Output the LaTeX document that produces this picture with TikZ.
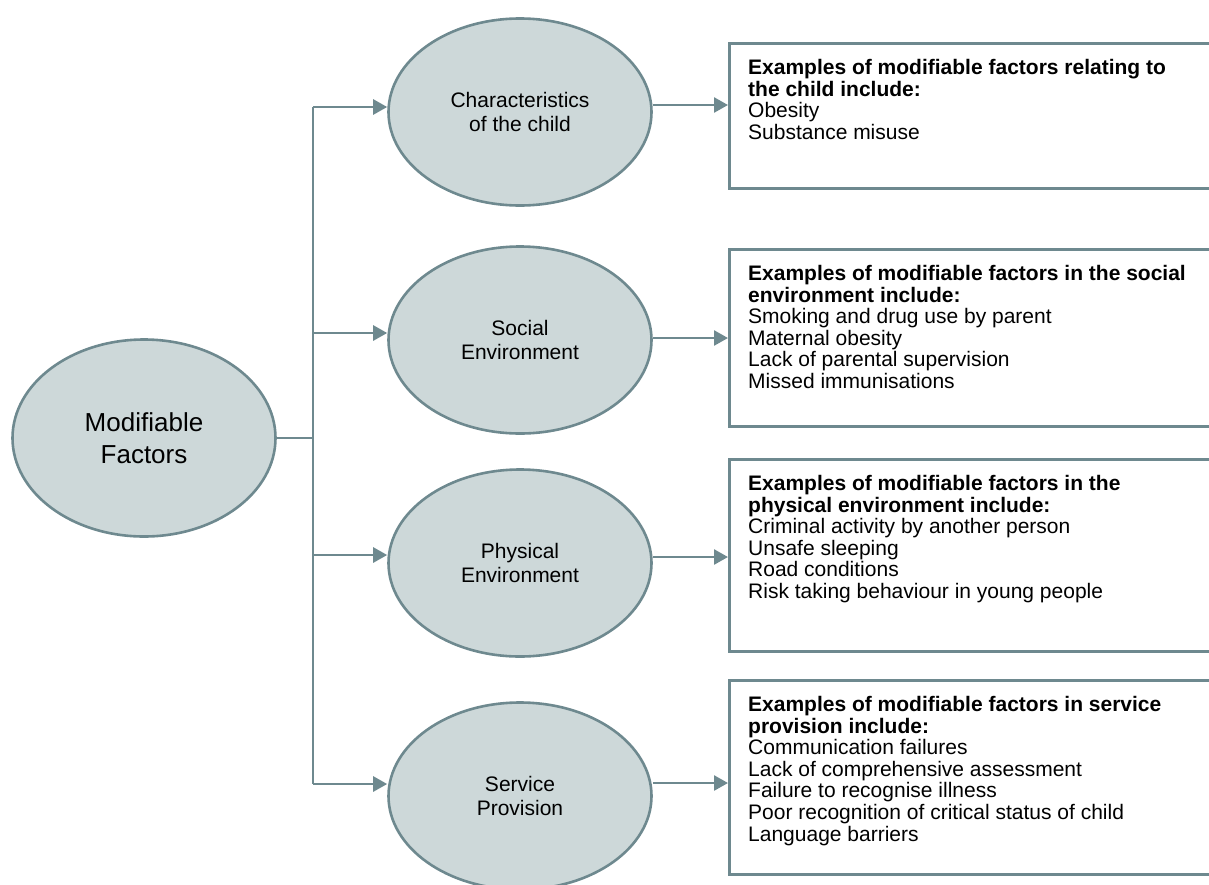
\documentclass[tikz,border=0pt]{standalone}
\usepackage{fontspec}
\setmainfont{Liberation Sans}
\usetikzlibrary{shapes.geometric, arrows.meta, positioning, calc}
\definecolor{factorfill}{RGB}{205, 216, 217}
\definecolor{factorline}{RGB}{110, 137, 143}
\tikzset{
    factor/.style={ellipse, draw=factorline, fill=factorfill, line width=2.6pt, minimum width=263pt, minimum height=187pt, inner sep=0pt, align=center, font=\fontsize{21}{23.3}\selectfont},
    rootfactor/.style={factor, minimum height=197pt, font=\fontsize{26}{31.5}\selectfont},
    examplebox/.style={rectangle, draw=factorline, line width=3pt, anchor=north west, minimum width=520pt, inner sep=0pt},
    exampletext/.style={anchor=north west, align=left, inner sep=0pt, font=\fontsize{21}{21.6}\selectfont},
    link/.style={draw=factorline, line width=2.6pt},
    linkarrow/.style={link, -{Triangle[length=14pt, width=15pt]}},
}

\begin{document}
\begin{tikzpicture}[x=1pt, y=-1pt]
    \useasboundingbox (0,0) rectangle (1209,884);
    \clip (0,0) rectangle (1209,884);

    % Root
    \node[rootfactor] (root) at (144, 438) {Modifiable\\Factors};

    % Factor groups
    \node[factor] (child) at (520, 112) {Characteristics\\of the child};
    \node[factor] (social) at (520, 340) {Social\\Environment};
    \node[factor] (physical) at (520, 563) {Physical\\Environment};
    \node[factor] (service) at (520, 796) {Service\\Provision};

    % Example boxes
    \node[examplebox, minimum height=145pt] (childbox) at (728, 42) {};
    \node[examplebox, minimum height=177pt] (socialbox) at (728, 248) {};
    \node[examplebox, minimum height=192pt] (physicalbox) at (728, 458) {};
    \node[examplebox, minimum height=194pt] (servicebox) at (728, 679) {};

    \node[exampletext] (childtext) at ([xshift=20pt, yshift=-17pt]childbox.north west)
        {\textbf{Examples of modifiable factors relating to}\\\textbf{the child include:}\\Obesity\\Substance misuse};
    \node[exampletext] (socialtext) at ([xshift=20pt, yshift=-17pt]socialbox.north west)
        {\textbf{Examples of modifiable factors in the social}\\\textbf{environment include:}\\Smoking and drug use by parent\\Maternal obesity\\Lack of parental supervision\\Missed immunisations};
    \node[exampletext] (physicaltext) at ([xshift=20pt, yshift=-17pt]physicalbox.north west)
        {\textbf{Examples of modifiable factors in the}\\\textbf{physical environment include:}\\Criminal activity by another person\\Unsafe sleeping\\Road conditions\\Risk taking behaviour in young people};
    \node[exampletext] (servicetext) at ([xshift=20pt, yshift=-17pt]servicebox.north west)
        {\textbf{Examples of modifiable factors in service}\\\textbf{provision include:}\\Communication failures\\Lack of comprehensive assessment\\Failure to recognise illness\\Poor recognition of critical status of child\\Language barriers};

    % Arrow ends
    \coordinate (childin) at ([yshift=5pt]child.west);
    \coordinate (socialin) at ([yshift=7pt]social.west);
    \coordinate (physicalin) at ([yshift=8pt]physical.west);
    \coordinate (servicein) at ([yshift=12pt]service.west);
    \coordinate (childout) at ([yshift=7pt]child.east);
    \coordinate (socialout) at ([yshift=2pt]social.east);
    \coordinate (physicalout) at ([yshift=6pt]physical.east);
    \coordinate (serviceout) at ([yshift=13pt]service.east);

    % Tree
    \draw[link] (root.east) -- ++(36, 0) coordinate (trunk);
    \draw[link] (trunk |- childin) -- (trunk |- servicein);
    \draw[linkarrow] (trunk |- childin) -- (childin);
    \draw[linkarrow] (trunk |- socialin) -- (socialin);
    \draw[linkarrow] (trunk |- physicalin) -- (physicalin);
    \draw[linkarrow] (trunk |- servicein) -- (servicein);

    % To the examples
    \draw[linkarrow] (childout) -- (childout -| childbox.west);
    \draw[linkarrow] (socialout) -- (socialout -| socialbox.west);
    \draw[linkarrow] (physicalout) -- (physicalout -| physicalbox.west);
    \draw[linkarrow] (serviceout) -- (serviceout -| servicebox.west);
\end{tikzpicture}
\end{document}
